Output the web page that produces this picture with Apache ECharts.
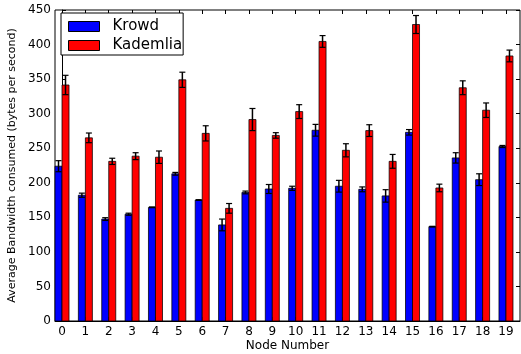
<!DOCTYPE html>
<html>
<head>
<meta charset="utf-8">
<script src="https://cdn.jsdelivr.net/npm/echarts@6/dist/echarts.min.js"></script>
<style>html,body{margin:0;padding:0;background:#fff;}#c{width:521px;height:354px;}</style>
</head>
<body>
<div id="c"></div>
<script>
const categories = ['0','1','2','3','4','5','6','7','8','9','10','11','12','13','14','15','16','17','18','19'];
const krowd = [224,182,147.5,154.5,164.5,213,175,139,186,191,192,276,195,190.5,181,273,136.5,236,204.5,252.5];
const krowdErr = [8,3,2,1.5,0.5,2,0.5,8.5,2,6.5,3,8.5,8.5,3.5,9,4,0.5,7.5,8.5,1.5];
const kademlia = [341.5,265,231,238.5,237,349,271.5,163,291.5,268.5,303,404.5,247,275.5,231,429,192.5,337.5,305,383.5];
const kademliaErr = [14,7,4.5,5,9,11,11,7,16,4,10,8.5,9.5,8.5,10,13,5.5,10,10.5,8.5];
const yTicks = [0,50,100,150,200,250,300,350,400,450];

const FONT = 'DejaVu Sans';
const chart = echarts.init(document.getElementById('c'), null, {renderer:'canvas'});

function makeRender(offset, color) {
  return function (params, api) {
    const i = api.value(0), v = api.value(1), e = api.value(2);
    const p0 = api.coord([i + offset, v]);
    const p1 = api.coord([i + offset + 0.3, 0]);
    const cx = (p0[0] + p1[0]) / 2;
    const top = api.coord([i, v + e])[1];
    const bot = api.coord([i, v - e])[1];
    const cap = 3;
    return {
      type: 'group',
      children: [
        {type:'rect', shape:{x:p0[0], y:p0[1], width:p1[0]-p0[0], height:p1[1]-p0[1]},
         style:{fill:color, stroke:'rgba(0,0,0,0.75)', lineWidth:1}},
        {type:'line', shape:{x1:cx, y1:top, x2:cx, y2:bot}, style:{stroke:'#000', lineWidth:1.5}},
        {type:'line', shape:{x1:cx-cap, y1:top, x2:cx+cap, y2:top}, style:{stroke:'#000', lineWidth:1.2}},
        {type:'line', shape:{x1:cx-cap, y1:bot, x2:cx+cap, y2:bot}, style:{stroke:'#000', lineWidth:1.2}}
      ]
    };
  };
}

const option = {
  animation: false,
  backgroundColor: '#fff',
  grid: [
    {left:55, right:1, top:10, bottom:33, show:true, borderColor:'#000', borderWidth:1, backgroundColor:'transparent', containLabel:false, outerBoundsMode:'none'},
    {left:62, right:15, top:10, bottom:33, show:false, containLabel:false, outerBoundsMode:'none'}
  ],
  legend: {
    left: 61, top: 13, orient: 'vertical',
    backgroundColor:'#fff', borderColor:'#000', borderWidth:1, borderRadius:0,
    padding:[6,1,2,7], itemGap:4, itemWidth:31, itemHeight:10,
    textStyle:{fontFamily:FONT, fontSize:15, lineHeight:15, color:'#000', padding:[0,0,0,8]},
    data:[
      {name:'Krowd', icon:'rect', itemStyle:{color:'#0000ff', borderColor:'#000', borderWidth:1}},
      {name:'Kademlia', icon:'rect', itemStyle:{color:'#ff0000', borderColor:'#000', borderWidth:1}}
    ]
  },
  xAxis: [
    {type:'value', gridIndex:0, min:-0.3, max:19.6, axisLine:{show:true, lineStyle:{color:'#000'}},
     axisTick:{show:false}, axisLabel:{show:false}, splitLine:{show:false},
     name:'Node Number', nameLocation:'middle', nameGap:19,
     nameTextStyle:{fontFamily:FONT, fontSize:12, color:'#000'}},
    {type:'value', gridIndex:1, min:0, max:19, interval:1, position:'bottom',
     axisLine:{show:false}, axisTick:{show:true, inside:true, length:4, lineStyle:{color:'#000'}},
     splitLine:{show:false},
     axisLabel:{show:true, margin:5, fontFamily:FONT, fontSize:12, color:'#000',
       formatter:function(v){return categories[v] !== undefined ? categories[v] : '';}}},
    {type:'value', gridIndex:1, min:0, max:19, interval:1, position:'top',
     axisLine:{show:false}, axisTick:{show:true, inside:true, length:4, lineStyle:{color:'#000'}},
     splitLine:{show:false}, axisLabel:{show:false}}
  ],
  yAxis: [
    {type:'value', gridIndex:0, min:yTicks[0], max:yTicks[yTicks.length-1], interval:50,
     axisLine:{show:true, lineStyle:{color:'#000'}},
     axisTick:{show:true, inside:true, length:4, lineStyle:{color:'#000'}},
     splitLine:{show:false},
     axisLabel:{margin:4, fontFamily:FONT, fontSize:12, color:'#000'},
     name:'Average Bandwidth consumed (bytes per second)', nameLocation:'middle', nameGap:35,
     nameTextStyle:{fontFamily:FONT, fontSize:11, color:'#000'}},
    {type:'value', gridIndex:0, min:yTicks[0], max:yTicks[yTicks.length-1], interval:50, position:'right',
     axisLine:{show:false}, axisTick:{show:true, inside:true, length:4, lineStyle:{color:'#000'}},
     splitLine:{show:false}, axisLabel:{show:false}},
    {type:'value', gridIndex:1, min:0, max:450, show:false}
  ],
  series: [
    {name:'Krowd', type:'custom', xAxisIndex:0, yAxisIndex:0, itemStyle:{color:'#0000ff'},
     renderItem: makeRender(-0.3, '#0000ff'),
     encode:{x:0, y:1},
     data: krowd.map(function(v,i){return [i, v, krowdErr[i]];})},
    {name:'Kademlia', type:'custom', xAxisIndex:0, yAxisIndex:0, itemStyle:{color:'#ff0000'},
     renderItem: makeRender(0, '#ff0000'),
     encode:{x:0, y:1},
     data: kademlia.map(function(v,i){return [i, v, kademliaErr[i]];})}
  ]
};
chart.setOption(option);
</script>
</body>
</html>
